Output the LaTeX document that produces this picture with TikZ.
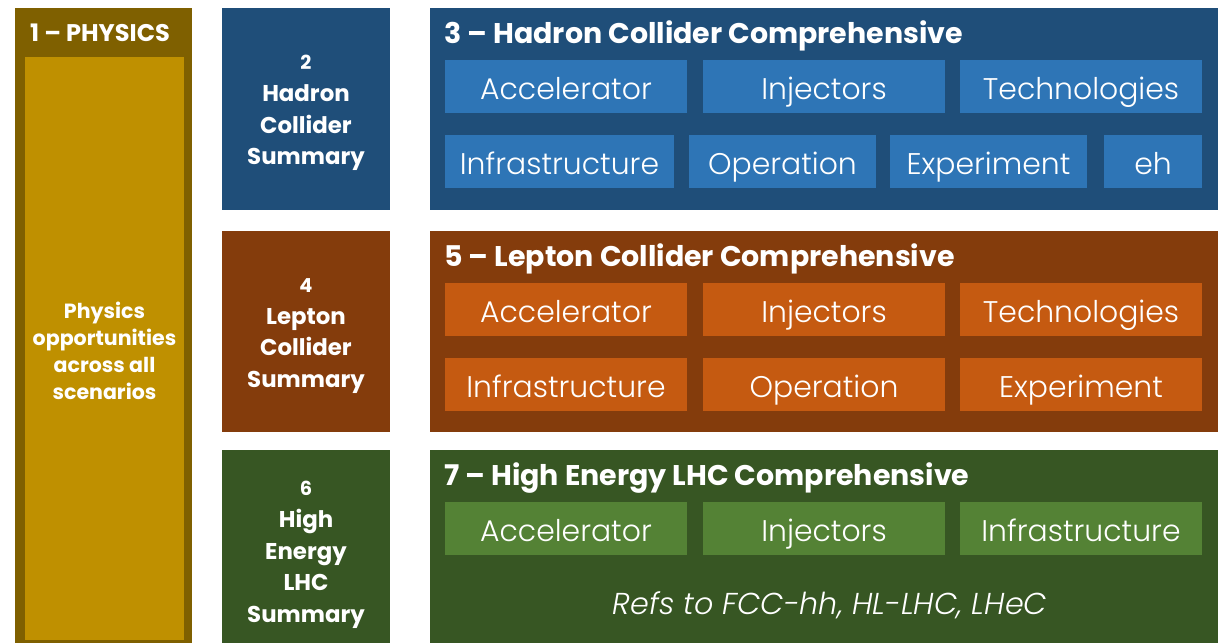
\documentclass[tikz,border=0pt]{standalone}
\usepackage{fontspec}
\setmainfont{Poppins}
\newfontfamily\lightfont{Poppins}[UprightFont=* Light, ItalicFont=* Light Italic]

\definecolor{physdark}{HTML}{7F6000}
\definecolor{physfill}{HTML}{BF9000}
\definecolor{hadrondark}{HTML}{1F4E79}
\definecolor{hadronfill}{HTML}{2E75B6}
\definecolor{leptondark}{HTML}{843C0C}
\definecolor{leptonfill}{HTML}{C55A11}
\definecolor{hedark}{HTML}{375623}
\definecolor{hefill}{HTML}{548235}

\begin{document}
\begin{tikzpicture}[x=0.02cm, y=-0.02cm,
    panel/.style 2 args={minimum width=#1*0.02cm, minimum height=#2*0.02cm,
      inner sep=0pt, outer sep=0pt, text=white},
    tile/.style={panel={#1}{53}, text height=15pt, text depth=0pt,
      font=\lightfont\fontsize{17}{20}\selectfont},
    summary/.style={text=white, align=center, font=\bfseries\fontsize{13}{18}\selectfont},
    heading/.style={anchor=west, text=white, inner sep=0pt, font=\bfseries\fontsize{16.2}{19}\selectfont}]
    \useasboundingbox (0,0) rectangle (1228,643);

    % physics column
    \node[panel={177}{635}, fill=physdark] (phys) at (103.5,325.5) {};
    \node[panel={159}{583}, fill=physfill] (physin) at (104.5,348.5) {};
    \node[text=white, font=\bfseries\fontsize{13.7}{16}\selectfont] (physhead) at (100,33) {1 -- PHYSICS};
    \node[text=white, align=center, font=\bfseries\fontsize{11.7}{15.3}\selectfont] (phystext) at (104.5,351)
      {Physics\\opportunities\\across all\\scenarios};

    % summaries
    \node[panel={168}{202}, fill=hadrondark] (hsum) at (306,109) {};
    \node[panel={168}{201}, fill=leptondark] (lsum) at (306,331.5) {};
    \node[panel={168}{193}, fill=hedark] (esum) at (306,546.5) {};
    \node[summary] at (306,113) {{\fontsize{11}{12}\selectfont 2}\\Hadron\\Collider\\Summary};
    \node[summary] at (306,336) {{\fontsize{11}{12}\selectfont 4}\\Lepton\\Collider\\Summary};
    \node[summary] at (306,555) {{\fontsize{11}{12}\selectfont 6}\\High\\Energy\\LHC\\Summary};

    % comprehensive blocks
    \node[panel={788}{202}, fill=hadrondark] (hcomp) at (824,109) {};
    \node[panel={788}{201}, fill=leptondark] (lcomp) at (824,331.5) {};
    \node[panel={788}{193}, fill=hedark] (ecomp) at (824,546.5) {};
    \node[heading] (htitle) at (444,36) {3 -- Hadron Collider Comprehensive};
    \node[heading] (ltitle) at (444,259) {5 -- Lepton Collider Comprehensive};
    \node[heading] (etitle) at (444,478) {7 -- High Energy LHC Comprehensive};

    % hadron tiles
    \foreach \cx/\w/\lbl [count=\i] in {566/242/Accelerator, 824/242/Injectors, 1081/242/Technologies}
      \node[tile=\w, fill=hadronfill] (ha\i) at (\cx,86.5) {\lbl};
    \foreach \cx/\w/\lbl [count=\i] in {559.5/229/Infrastructure, 782.5/187/Operation,
        988.5/197/Experiment, 1153/98/eh}
      \node[tile=\w, fill=hadronfill] (hb\i) at (\cx,161.5) {\lbl};

    % lepton tiles
    \foreach \cx/\lbl [count=\i] in {566/Accelerator, 824/Injectors, 1081/Technologies}
      \node[tile=242, fill=leptonfill] (la\i) at (\cx,309.5) {\lbl};
    \foreach \cx/\lbl [count=\i] in {566/Infrastructure, 824/Operation, 1081/Experiment}
      \node[tile=242, fill=leptonfill] (lb\i) at (\cx,384.5) {\lbl};

    % high energy tiles
    \foreach \cx/\lbl [count=\i] in {566/Accelerator, 824/Injectors, 1081/Infrastructure}
      \node[tile=242, fill=hefill] (ea\i) at (\cx,528.5) {\lbl};
    \node[text=white, font=\lightfont\itshape\fontsize{17.2}{20}\selectfont] (refs) at (830,605)
      {Refs to FCC-hh, HL-LHC, LHeC};
\end{tikzpicture}
\end{document}
